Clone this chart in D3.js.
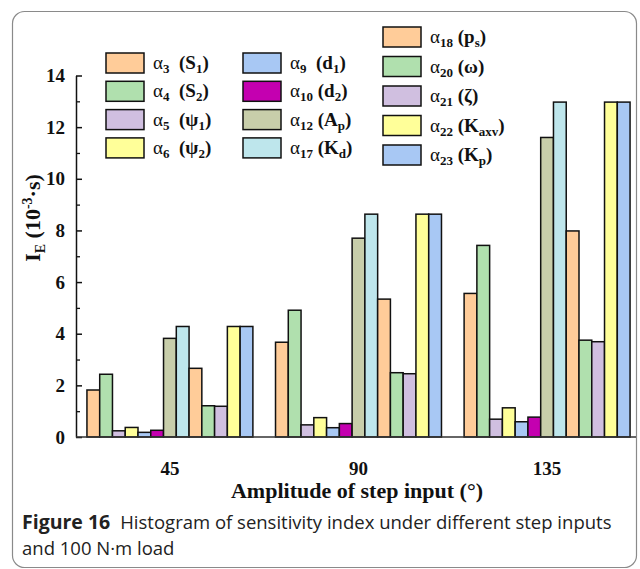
<!DOCTYPE html>
<html>
<head>
<meta charset="utf-8">
<script src="https://cdn.jsdelivr.net/npm/d3@7"></script>
<style>
  html, body { margin: 0; padding: 0; background: #fff; }
  svg { display: block; }
</style>
</head>
<body>
<div id="chart"></div>
<script>
// chart data
const categories = ["45", "90", "135"];
const alphaIdx  = ["3", "4", "5", "6", "9", "10", "12", "17", "18", "20", "21", "22", "23"];
const paramBase = ["S", "S", "ψ", "ψ", "d", "d", "A", "K", "p", "ω", "ζ", "K", "K"];
const paramSub  = ["1", "2", "1", "2", "1", "2", "p", "d", "s", "", "", "axv", "p"];
const values45  = [1.82, 2.43, 0.24, 0.37, 0.18, 0.26, 3.82, 4.28, 2.66, 1.21, 1.19, 4.28, 4.28];
const values90  = [3.67, 4.91, 0.47, 0.75, 0.36, 0.52, 7.70, 8.63, 5.34, 2.49, 2.45, 8.63, 8.63];
const values135 = [5.56, 7.42, 0.69, 1.13, 0.59, 0.77, 11.6, 12.97, 7.98, 3.75, 3.69, 12.97, 12.97];
const colors = ["#FFCC99", "#B0E0AE", "#D0BFE0", "#FFFF99", "#A8C8F4", "#C400B0",
                "#C8CEAA", "#BEE6EC", "#FFCC99", "#B0E0AE", "#D0BFE0", "#FFFF99", "#A8C8F4"];
const yTicks = [0, 2, 4, 6, 8, 10, 12, 14];
const yMinor = [1, 3, 5, 7, 9, 11, 13];

const W = 640, H = 569;
const serif = "'Liberation Serif', 'Times New Roman', serif";
const sans = "'Open Sans', sans-serif";

const table = categories.map((c, i) => ({ cat: c, vals: [values45, values90, values135][i] }));

const svg = d3.select("#chart").append("svg")
    .attr("width", W).attr("height", H);

// card frame
svg.append("rect")
    .attr("x", 12.5).attr("y", 11.5)
    .attr("width", 624).attr("height", 556)
    .attr("rx", 12)
    .attr("fill", "none").attr("stroke", "#8a8a8a").attr("stroke-width", 1.2);

const x0 = d3.scaleBand().domain(categories).range([76, 641]).paddingInner(0.12).paddingOuter(0.058);
const x1 = d3.scaleBand().domain(d3.range(alphaIdx.length)).range([0, x0.bandwidth()]);
const y = d3.scaleLinear().domain([0, 14]).range([437, 75.5]);

// bars
const groups = svg.append("g").selectAll("g")
    .data(table).join("g")
    .attr("transform", d => `translate(${x0(d.cat)},0)`);

groups.selectAll("rect")
    .data(d => d.vals.map((v, i) => ({ i, v })))
    .join("rect")
    .attr("x", d => x1(d.i))
    .attr("y", d => y(d.v))
    .attr("width", x1.bandwidth())
    .attr("height", d => y(0) - y(d.v))
    .attr("fill", d => colors[d.i])
    .attr("stroke", "#111").attr("stroke-width", 1.5);

// y axis, ticks point inward
const yAxis = svg.append("g")
    .attr("transform", "translate(76,0)")
    .call(d3.axisLeft(y).tickValues(yTicks).tickSizeInner(-6).tickSizeOuter(0).tickPadding(11));
yAxis.select(".domain").attr("stroke", "#111").attr("stroke-width", 1.5);
yAxis.selectAll(".tick line").attr("stroke", "#111").attr("stroke-width", 1.5);
yAxis.selectAll("text")
    .attr("font-family", serif).attr("font-weight", "bold").attr("font-size", 19).attr("fill", "#111");

const yMinorAxis = svg.append("g")
    .attr("transform", "translate(76,0)")
    .call(d3.axisLeft(y).tickValues(yMinor).tickSizeInner(-4).tickSizeOuter(0).tickFormat(""));
yMinorAxis.select(".domain").remove();
yMinorAxis.selectAll(".tick line").attr("stroke", "#111").attr("stroke-width", 1.3);

// x axis
const xAxis = svg.append("g")
    .attr("transform", `translate(0,${y(0)})`)
    .call(d3.axisBottom(x0).tickSize(0).tickPadding(25));
xAxis.select(".domain").attr("stroke", "#333").attr("stroke-width", 1.5)
    .attr("d", "M76,0H636");
xAxis.selectAll("text")
    .attr("font-family", serif).attr("font-weight", "bold").attr("font-size", 19).attr("fill", "#111");

// axis titles
svg.append("text")
    .attr("x", 357).attr("y", 498)
    .attr("text-anchor", "middle")
    .attr("font-family", serif).attr("font-weight", "bold").attr("font-size", 22).attr("fill", "#111")
    .text("Amplitude of step input (°)");

const yl = svg.append("text")
    .attr("transform", "translate(40,218) rotate(-90)")
    .attr("text-anchor", "middle")
    .attr("font-family", serif).attr("font-weight", "bold").attr("font-size", 22).attr("fill", "#111");
yl.append("tspan").text("I");
yl.append("tspan").attr("font-size", 14).attr("dy", 5).text("E");
yl.append("tspan").attr("dy", -5).text("  (10");
yl.append("tspan").attr("font-size", 14).attr("dy", -8).text("-3");
yl.append("tspan").attr("dy", 8).text("·s)");

// legend
const legendPos = alphaIdx.map((a, i) => {
    if (i < 4) return { x: 106, y: 53 + i * 28.3 };
    if (i < 8) return { x: 243, y: 53 + (i - 4) * 28.3 };
    return { x: 383, y: 27 + (i - 8) * 29.5 };
});

const leg = svg.append("g").selectAll("g")
    .data(alphaIdx.map((a, i) => i)).join("g")
    .attr("transform", i => `translate(${legendPos[i].x},${legendPos[i].y})`);

leg.append("rect")
    .attr("width", 38).attr("height", 20)
    .attr("fill", i => colors[i])
    .attr("stroke", "#111").attr("stroke-width", 1.5);

leg.each(function (i) {
    const t = d3.select(this).append("text")
        .attr("x", 47).attr("y", 16)
        .attr("xml:space", "preserve")
        .attr("font-family", serif).attr("font-size", 19).attr("fill", "#111");
    t.append("tspan").text("α");
    t.append("tspan").attr("font-size", 13).attr("font-weight", "bold").attr("dy", 4).text(alphaIdx[i]);
    t.append("tspan").attr("font-weight", "bold").attr("dy", -4)
        .text((alphaIdx[i].length < 2 ? "  " : " ") + "(" + paramBase[i]);
    if (paramSub[i]) {
        t.append("tspan").attr("font-size", 13).attr("font-weight", "bold").attr("dy", 4).text(paramSub[i]);
        t.append("tspan").attr("font-weight", "bold").attr("dy", -4).text(")");
    } else {
        t.append("tspan").attr("font-weight", "bold").text(")");
    }
});

// caption
const cap = svg.append("text")
    .attr("x", 22).attr("y", 529)
    .attr("font-family", sans).attr("font-size", 18.5).attr("fill", "#222");
cap.append("tspan").attr("font-weight", "bold").attr("font-size", 19.5).text("Figure 16");
cap.append("tspan").attr("dx", 10).text("Histogram of sensitivity index under different step inputs");
svg.append("text")
    .attr("x", 22).attr("y", 555)
    .attr("font-family", sans).attr("font-size", 18.5).attr("fill", "#222")
    .text("and 100 N·m load");
</script>
</body>
</html>
